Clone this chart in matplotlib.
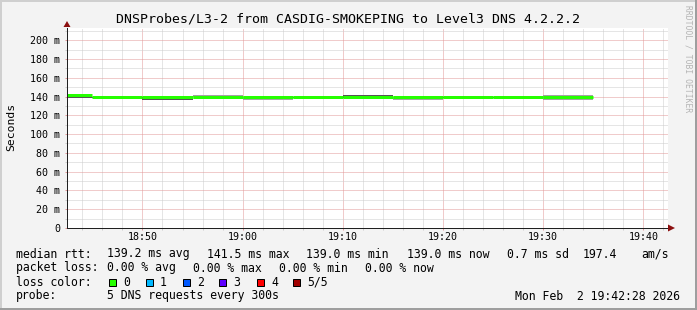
import matplotlib
matplotlib.use("Agg")
import matplotlib.pyplot as plt
import matplotlib.dates as mdates
from matplotlib.patches import Rectangle, Polygon
from matplotlib.ticker import MultipleLocator, FuncFormatter
from datetime import datetime, timedelta

# ---------------- data ----------------
title = "DNSProbes/L3-2 from CASDIG-SMOKEPING to Level3 DNS 4.2.2.2"
day = "2026-02-02"
view_start = "18:42:28"
view_end = "19:42:28"
seg_starts = ["18:40", "18:45", "18:50", "18:55", "19:00", "19:05",
              "19:10", "19:15", "19:20", "19:25", "19:30"]
step_minutes = 5
median_ms = [141.5, 139.0, 139.0, 139.0, 139.0, 139.0,
             139.0, 139.0, 139.0, 139.0, 139.0]
smoke_lo_ms = [138.6, 138.8, 136.8, 139.0, 136.8, 138.8,
               138.8, 136.8, 138.8, 138.8, 135.8]
smoke_hi_ms = [141.5, 139.2, 139.0, 141.3, 139.0, 139.2,
               141.3, 139.0, 139.2, 139.2, 141.3]
smoke_shade = ["#555555", "#555555", "#555555", "#a2a2a2", "#a6a6a6", "#555555",
               "#555555", "#a6a6a6", "#555555", "#555555", "#a2a2a2"]

rtt_avg, rtt_max, rtt_min, rtt_now, rtt_sd, am_s = 139.2, 141.5, 139.0, 139.0, 0.7, 197.4
loss_avg, loss_max, loss_min, loss_now = 0.00, 0.00, 0.00, 0.00
loss_labels = ["0", "1", "2", "3", "4", "5/5"]
loss_colors = ["#26ff00", "#00b8ff", "#0059ff", "#5e00ff", "#ff0000", "#a10000"]
probe_text = "5 DNS requests every 300s"
stamp_text = "Mon Feb  2 19:42:28 2026"
y_max = 213

# ---------------- figure ----------------
W, H = 697, 310
MONO = "DejaVu Sans Mono"
fig = plt.figure(figsize=(W / 100, H / 100), dpi=100, facecolor="#f3f3f3")


def fx(x):
    return x / W


def fy(y):
    return 1 - y / H


# frame shading
fig.patches.append(Rectangle((0, fy(2)), 1, 2 / H, transform=fig.transFigure,
                             color="#cfcfcf", lw=0))
fig.patches.append(Rectangle((0, 0), 2 / W, 1, transform=fig.transFigure,
                             color="#cfcfcf", lw=0))
fig.patches.append(Rectangle((0, 0), 1, 2 / H, transform=fig.transFigure,
                             color="#9e9e9e", lw=0))
fig.patches.append(Rectangle((fx(W - 2), 0), 2 / W, 1, transform=fig.transFigure,
                             color="#9e9e9e", lw=0))

L, R, T, B = 67, 668, 28, 228
ax = fig.add_axes([fx(L), fy(B), (R - L) / W, (B - T) / H])
ax.set_facecolor("white")

t0 = datetime.fromisoformat(f"{day} {view_start}")
t1 = datetime.fromisoformat(f"{day} {view_end}")
starts = [datetime.fromisoformat(f"{day} {s}:00") for s in seg_starts]
ends = [s + timedelta(minutes=step_minutes) for s in starts]
width_days = step_minutes / 1440.0

heights = [h - l for h, l in zip(smoke_hi_ms, smoke_lo_ms)]
ax.bar(mdates.date2num(starts), heights, bottom=smoke_lo_ms, width=width_days,
       align="edge", color=smoke_shade, linewidth=0, zorder=2)
ax.hlines(median_ms, mdates.date2num(starts), mdates.date2num(ends),
          colors=loss_colors[0], linewidth=2.16, capstyle="butt", zorder=3)

ax.set_xlim(t0, t1)
ax.set_ylim(0, y_max)

ax.xaxis.set_major_locator(mdates.MinuteLocator(byminute=range(0, 60, 10)))
ax.xaxis.set_minor_locator(mdates.MinuteLocator(byminute=range(0, 60, 2)))
ax.xaxis.set_major_formatter(mdates.DateFormatter("%H:%M"))
ax.yaxis.set_major_locator(MultipleLocator(20))
ax.yaxis.set_minor_locator(MultipleLocator(10))
ax.yaxis.set_major_formatter(FuncFormatter(lambda v, p: "0" if v == 0 else f"{v:.0f} m"))

dots = (0, (1, 1))
ax.set_axisbelow(True)
ax.grid(which="minor", color="#cdcdcd", linestyle=dots, linewidth=0.72)
ax.grid(which="major", color="#e39898", linestyle=dots, linewidth=0.72)

for sp in ["top", "right"]:
    ax.spines[sp].set_visible(False)
for sp in ["left", "bottom"]:
    ax.spines[sp].set_color("#202020")
    ax.spines[sp].set_linewidth(0.72)
    ax.spines[sp].set_zorder(4)

ax.tick_params(which="major", length=1.5, width=0.72, color="#e39898",
               labelcolor="black", labelsize=7.2, pad=3.6)
ax.tick_params(which="minor", length=1.5, width=0.72, color="#cdcdcd")
ax.tick_params(axis="x", which="major", pad=1.5)
for lab in ax.get_xticklabels() + ax.get_yticklabels():
    lab.set_family(MONO)

# arrows
arrow_col = "#8c1010"
fig.patches.append(Polygon([(fx(67), fy(21)), (fx(63.5), fy(27)), (fx(70.5), fy(27))],
                           closed=True, transform=fig.transFigure, color=arrow_col, lw=0))
fig.patches.append(Polygon([(fx(675), fy(228)), (fx(668), fy(224.5)), (fx(668), fy(231.5))],
                           closed=True, transform=fig.transFigure, color=arrow_col, lw=0))

# title, labels, watermark
fig.text(fx(348), fy(19), title, ha="center", va="center", family=MONO, fontsize=9.55)
fig.text(fx(11), fy(127), "Seconds", rotation=90, ha="center", va="center",
         family=MONO, fontsize=8.2)
fig.text(fx(688), fy(5), "RRDTOOL / TOBI OETIKER", rotation=270, ha="center", va="top",
         family=MONO, fontsize=5.8, color="#b4b4b4")

# legend lines
LS = 8.3
rows = [
    (254, [("median rtt:", 16), (f"{rtt_avg:.1f} ms avg", 107), (f"{rtt_max:.1f} ms max", 207),
           (f"{rtt_min:.1f} ms min", 306), (f"{rtt_now:.1f} ms now", 407),
           (f"{rtt_sd:.1f} ms sd", 507), (f"{am_s:.1f}", 583), ("am/s", 641)]),
    (268, [("packet loss:", 16), (f"{loss_avg:.2f} % avg", 107), (f"{loss_max:.2f} % max", 193),
           (f"{loss_min:.2f} % min", 279), (f"{loss_now:.2f} % now", 365)]),
    (282, [("loss color:", 16)]),
    (296, [("probe:", 16), (probe_text, 107)]),
]
for y, items in rows:
    for s, x in items:
        fig.text(fx(x), fy(y), s, ha="left", va="center", family=MONO, fontsize=LS)

box_x = [109, 146, 183, 219, 257, 293]
for bx, lab, col in zip(box_x, loss_labels, loss_colors):
    fig.patches.append(Rectangle((fx(bx), fy(286)), 7 / W, 7 / H, transform=fig.transFigure,
                                 facecolor=col, edgecolor="black", lw=0.72))
    fig.text(fx(bx + 14), fy(282), lab, ha="left", va="center", family=MONO, fontsize=LS)

fig.text(fx(680), fy(296), stamp_text, ha="right", va="center", family=MONO, fontsize=LS)

fig.savefig("out.png", dpi=100, facecolor=fig.get_facecolor())
